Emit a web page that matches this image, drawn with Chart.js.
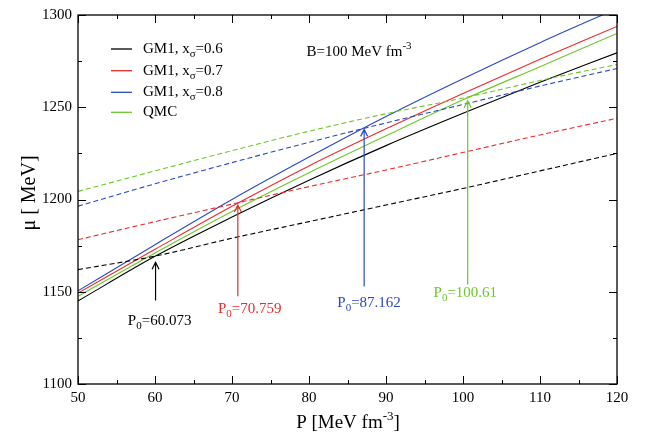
<!DOCTYPE html>
<html>
<head>
<meta charset="utf-8">
<script src="https://cdn.jsdelivr.net/npm/chart.js@4.4.0/dist/chart.umd.min.js"></script>
<style>
  html, body { margin: 0; padding: 0; background: #fff; }
  #wrap { width: 650px; height: 436px; }
</style>
</head>
<body>
<div id="wrap"><canvas id="grafica" width="650" height="436"></canvas></div>
<script>
// presion P [MeV fm^-3]
const presion = [50, 60, 70, 80, 90, 100, 110, 120];

// fase hadronica (lineas solidas)
const gm06 = [1145, 1169.2, 1190.5, 1210.5, 1229.2, 1246.7, 1263.5, 1279.5];
const gm07 = [1149.3, 1173, 1196.3, 1218.2, 1238.3, 1257.5, 1276, 1293.8];
const gm08 = [1150.5, 1175.5, 1200, 1223, 1245, 1265.5, 1285, 1303.5];
const qmc  = [1147.5, 1171, 1193.5, 1214.5, 1234.5, 1254, 1272, 1290];

// fase de quarks (lineas discontinuas)
const quark06 = [1162, 1169.3, 1179, 1188, 1197, 1206, 1215.5, 1225];
const quark07 = [1178.2, 1188, 1197.5, 1207, 1216, 1225.5, 1235, 1244];
const quark08 = [1196.4, 1208.5, 1220, 1231, 1241.5, 1251.5, 1261.5, 1271];
const quarkQmc = [1204.4, 1215.5, 1226.5, 1237, 1246.5, 1255, 1264.5, 1273.2];

// transiciones P0
const p0Valores = [60.073, 70.759, 87.162, 100.61];
const p0Textos = ["60.073", "70.759", "87.162", "100.61"];
const flechaDesde = [1145.3, 1147.5, 1152.8, 1153.9];
const flechaHasta = [1166, 1197, 1238, 1253.5];
const textoP = [60.6, 72.3, 87.8, 100.3];
const textoMu = [1134, 1140.5, 1143.9, 1149.2];

const colores = ["#000000", "#ee2a2a", "#2a48c4", "#6cc82a"];
const nombres = ["0.6", "0.7", "0.8", null];

const xMarcas = [50, 60, 70, 80, 90, 100, 110, 120];
const yMarcas = [1100, 1150, 1200, 1250, 1300];

const fuente = "'Liberation Serif', 'DejaVu Serif', serif";

function serie(valores, color, discontinua) {
  return {
    data: presion.map((p, i) => ({ x: p, y: valores[i] })),
    borderColor: color,
    borderWidth: 1.1,
    borderDash: discontinua ? [5, 3] : [],
    pointRadius: 0,
    fill: false,
    cubicInterpolationMode: "monotone"
  };
}

// texto con subindice o superindice
function textoMixto(ctx, partes, x, y, alinear) {
  let ancho = 0;
  partes.forEach(p => {
    ctx.font = (p.s ? "11px " : "15px ") + fuente;
    ancho += ctx.measureText(p.t).width;
  });
  let cx = alinear === "center" ? x - ancho / 2 : x;
  partes.forEach(p => {
    ctx.font = (p.s ? "11px " : "15px ") + fuente;
    const dy = p.s === "sub" ? 5 : (p.s === "sup" ? -6 : 0);
    ctx.fillText(p.t, cx, y + dy);
    cx += ctx.measureText(p.t).width;
  });
}

const extras = {
  id: "extras",
  afterDraw(chart) {
    const ctx = chart.ctx;
    const a = chart.chartArea;
    const sx = chart.scales.x;
    const sy = chart.scales.y;
    ctx.save();

    // marco
    ctx.strokeStyle = "#000";
    ctx.lineWidth = 1.3;
    ctx.strokeRect(a.left, a.top, a.right - a.left, a.bottom - a.top);

    // marcas hacia dentro
    ctx.lineWidth = 1;
    ctx.beginPath();
    for (let v = 50; v <= 120; v += 5) {
      const px = Math.round(sx.getPixelForValue(v)) + 0.5;
      const l = v % 10 === 0 ? 8 : 4;
      ctx.moveTo(px, a.bottom); ctx.lineTo(px, a.bottom - l);
      ctx.moveTo(px, a.top); ctx.lineTo(px, a.top + l);
    }
    for (let v = 1100; v <= 1300; v += 25) {
      const py = Math.round(sy.getPixelForValue(v)) + 0.5;
      const l = v % 50 === 0 ? 8 : 4;
      ctx.moveTo(a.left, py); ctx.lineTo(a.left + l, py);
      ctx.moveTo(a.right, py); ctx.lineTo(a.right - l, py);
    }
    ctx.stroke();

    // flechas y etiquetas P0
    p0Valores.forEach((p, i) => {
      const px = sx.getPixelForValue(p);
      const y0 = sy.getPixelForValue(flechaDesde[i]);
      const y1 = sy.getPixelForValue(flechaHasta[i]);
      ctx.strokeStyle = colores[i];
      ctx.lineWidth = 1.2;
      ctx.beginPath();
      ctx.moveTo(px, y0); ctx.lineTo(px, y1);
      ctx.moveTo(px - 3.5, y1 + 7); ctx.lineTo(px, y1); ctx.lineTo(px + 3.5, y1 + 7);
      ctx.stroke();
      ctx.fillStyle = colores[i];
      ctx.textBaseline = "middle";
      textoMixto(ctx, [{ t: "P" }, { t: "0", s: "sub" }, { t: "=" + p0Textos[i] }],
        sx.getPixelForValue(textoP[i]), sy.getPixelForValue(textoMu[i]), "center");
    });

    // leyenda
    const leyY = [49, 70.7, 92.3, 112.3];
    leyY.forEach((y, i) => {
      ctx.strokeStyle = colores[i];
      ctx.lineWidth = 1.3;
      ctx.beginPath();
      ctx.moveTo(111, y); ctx.lineTo(132, y);
      ctx.stroke();
      ctx.fillStyle = "#000";
      ctx.textBaseline = "middle";
      if (nombres[i]) {
        textoMixto(ctx, [{ t: "GM1, x" }, { t: "\u03c3", s: "sub" }, { t: "=" + nombres[i] }], 143, y, "left");
      } else {
        textoMixto(ctx, [{ t: "QMC" }], 143, y, "left");
      }
    });

    // constante de bolsa
    textoMixto(ctx, [{ t: "B=100 MeV fm" }, { t: "-3", s: "sup" }], 306.5, 52, "left");

    // titulos de ejes
    ctx.fillStyle = "#000";
    ctx.textBaseline = "alphabetic";
    ctx.font = "19px " + fuente;
    const tx = "P [MeV fm";
    const ancho = ctx.measureText(tx).width;
    ctx.font = "13px " + fuente;
    const anchoSup = ctx.measureText("-3").width;
    ctx.font = "19px " + fuente;
    const anchoCierre = ctx.measureText("]").width;
    let x0 = 348 - (ancho + anchoSup + anchoCierre) / 2;
    ctx.fillText(tx, x0, 428);
    ctx.font = "13px " + fuente;
    ctx.fillText("-3", x0 + ancho, 420);
    ctx.font = "19px " + fuente;
    ctx.fillText("]", x0 + ancho + anchoSup, 428);

    ctx.translate(30, 193);
    ctx.rotate(-Math.PI / 2);
    ctx.textAlign = "center";
    ctx.textBaseline = "middle";
    ctx.font = "20px " + fuente;
    ctx.fillText("\u03bc [ MeV]", 0, 0);
    ctx.restore();
  }
};

new Chart(document.getElementById("grafica"), {
  type: "line",
  data: {
    datasets: [
      serie(quark06, colores[0], true),
      serie(quark07, colores[1], true),
      serie(quark08, colores[2], true),
      serie(quarkQmc, colores[3], true),
      serie(gm06, colores[0], false),
      serie(gm07, colores[1], false),
      serie(gm08, colores[2], false),
      serie(qmc, colores[3], false)
    ]
  },
  options: {
    responsive: false,
    animation: false,
    layout: { padding: { top: 9, right: 33, left: 0, bottom: 0 } },
    plugins: { legend: { display: false }, tooltip: { enabled: false } },
    scales: {
      x: {
        type: "linear",
        min: 50, max: 120,
        afterFit: s => { s.height = 52; },
        afterBuildTicks: s => { s.ticks = xMarcas.map(v => ({ value: v })); },
        grid: { display: false, drawTicks: false },
        border: { display: false },
        ticks: { color: "#000", font: { family: fuente, size: 15 }, padding: 5, maxRotation: 0,
                 callback: v => String(v) }
      },
      y: {
        min: 1100, max: 1300,
        afterFit: s => { s.width = 78; },
        afterBuildTicks: s => { s.ticks = yMarcas.map(v => ({ value: v })); },
        grid: { display: false, drawTicks: false },
        border: { display: false },
        ticks: { color: "#000", font: { family: fuente, size: 15 }, padding: 6,
                 callback: v => String(v) }
      }
    }
  },
  plugins: [extras]
});
</script>
</body>
</html>
